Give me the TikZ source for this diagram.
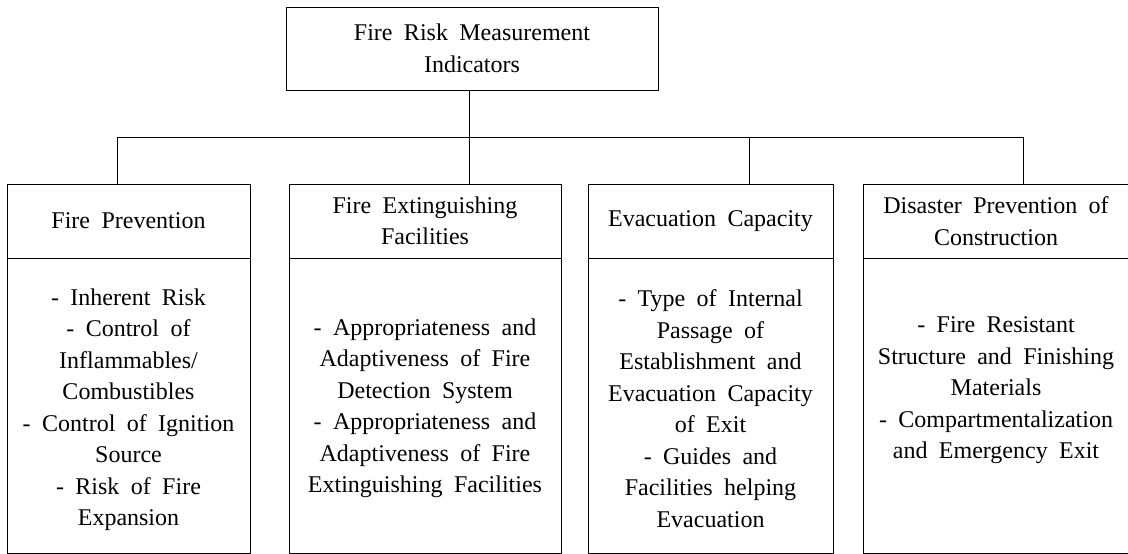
\documentclass[tikz,border=0pt]{standalone}
\usepackage{fontspec}
\setmainfont{Liberation Serif}[WordSpace=1.9]
\begin{document}
\begin{tikzpicture}[x=1pt, y=-1pt,
    every node/.style={font=\fontsize{24}{31.5}\selectfont},
    box/.style={draw, line width=0.9pt, inner sep=0pt, align=center},
    txt/.style={inner sep=0pt, align=center}]
    \useasboundingbox (0,0) rectangle (1128,554);

    % Top box
    \node[box, minimum width=372pt, minimum height=83pt] (top) at (472,48.5)
        {Fire Risk Measurement\\Indicators};

    % Headers
    \node[box, minimum width=243pt, minimum height=74pt] (h1) at (128.5,221) {Fire Prevention};
    \node[box, minimum width=272pt, minimum height=74pt] (h2) at (425,221) {Fire Extinguishing\\Facilities};
    \node[box, minimum width=245pt, minimum height=74pt] (h3) at (710.5,221) {Evacuation Capacity};
    \node[box, minimum width=266pt, minimum height=74pt] (h4) at (996,221) {Disaster Prevention of\\Construction};

    % Bodies
    \node[box, minimum width=243pt, minimum height=295pt] (b1) at (128.5,405.5) {};
    \node[box, minimum width=272pt, minimum height=295pt] (b2) at (425,405.5) {};
    \node[box, minimum width=245pt, minimum height=295pt] (b3) at (710.5,405.5) {};
    \node[box, minimum width=266pt, minimum height=295pt] (b4) at (996,405.5) {};

    \node[txt] (t1) at ([yshift=-4pt]b1.center) {- Inherent Risk\\- Control of\\Inflammables/\\Combustibles\\- Control of Ignition\\Source\\- Risk of Fire\\Expansion};
    \node[txt] (t2) at ([yshift=-3pt]b2.center) {- Appropriateness and\\Adaptiveness of Fire\\Detection System\\- Appropriateness and\\Adaptiveness of Fire\\Extinguishing Facilities};
    \node[txt] (t3) at ([yshift=-3pt]b3.center) {- Type of Internal\\Passage of\\Establishment and\\Evacuation Capacity\\of Exit\\- Guides and\\Facilities helping\\Evacuation};
    \node[txt] (t4) at ([yshift=15pt]b4.center) {- Fire Resistant\\Structure and Finishing\\Materials\\- Compartmentalization\\and Emergency Exit};

    % Connectors
    \coordinate (bus) at (469,137);
    \draw[line width=0.9pt] (bus |- top.south) -- (bus);
    \coordinate (j1) at (117,137);
    \coordinate (j2) at (469,137);
    \coordinate (j3) at (749,137);
    \coordinate (j4) at (1023,137);
    \draw[line width=0.9pt] (j1) -- (j4);
    \foreach \n in {1,2,3,4}
        \draw[line width=0.9pt] (j\n) -- (j\n |- h\n.north);
\end{tikzpicture}
\end{document}
